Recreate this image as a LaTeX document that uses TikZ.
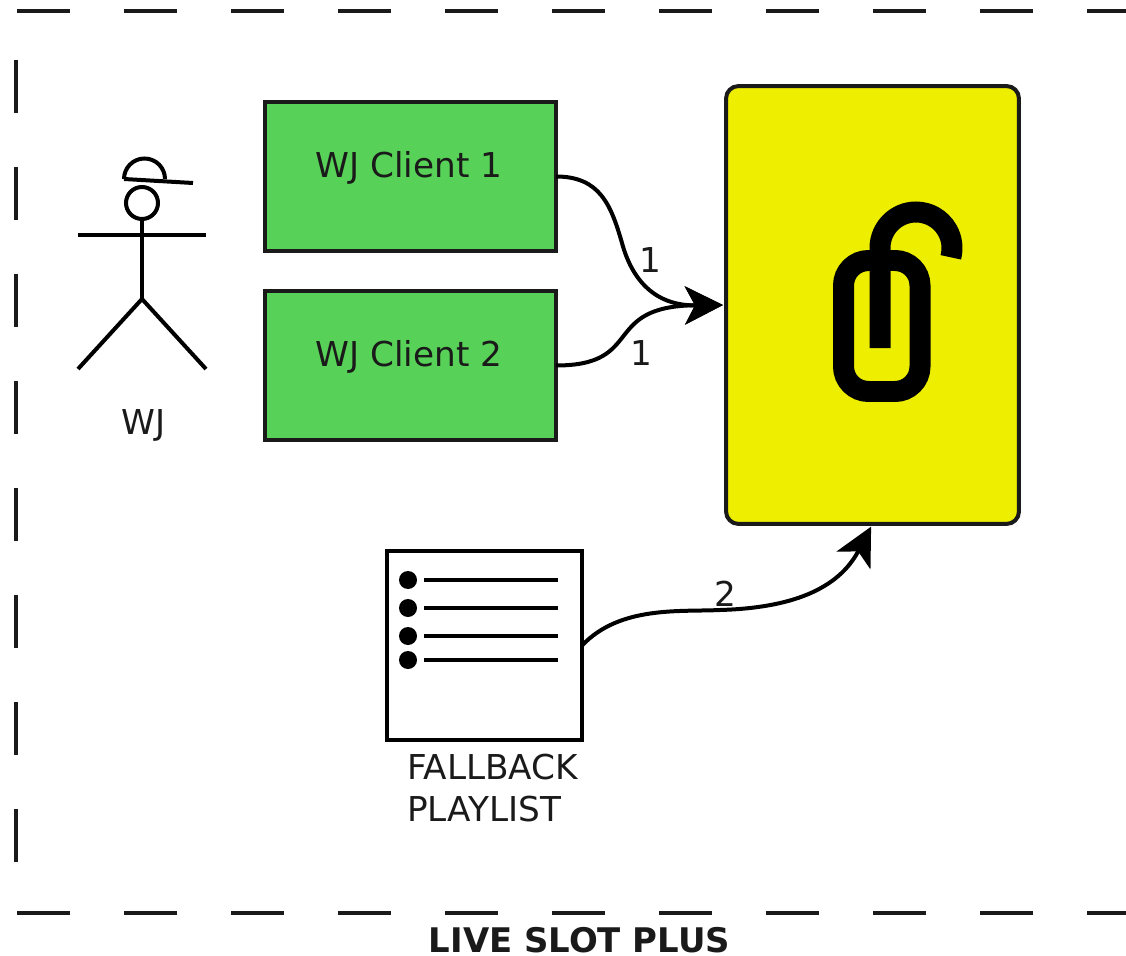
\documentclass[tikz,border=0pt]{standalone}
\usepackage{fontspec}
\setmainfont{DejaVu Sans}
\usepackage{tikz}
\usetikzlibrary{arrows.meta, positioning}
\definecolor{clientgreen}{HTML}{57D157}
\definecolor{mixeryellow}{HTML}{EEEE00}
\definecolor{inkgray}{HTML}{1A1A1A}
\begin{document}
\begin{tikzpicture}[x=0.02cm, y=0.02cm]
\tikzstyle{every node}+=[inner sep=0pt, outer sep=0pt, text=inkgray, font=\fontsize{19.5}{24}\selectfont]
\tikzstyle{frame}=[inkgray, line width=0.09cm, dash pattern=on 1.06cm off 1.08cm]
\tikzstyle{clientbox}=[draw=inkgray, fill=clientgreen, line width=0.08cm, minimum width=5.82cm, minimum height=2.98cm]
\tikzstyle{stick}=[black, line width=0.08cm]
\tikzstyle{wire}=[black, line width=0.08cm]
\tikzstyle{arrowwire}=[wire, shorten >=0.06cm, -{Stealth[length=0.76cm, width=0.76cm, inset=0.2cm]}]
\tikzstyle{lockline}=[black, line width=0.42cm]
\useasboundingbox (0,0) rectangle (1126,-956);
% dashed frame
\coordinate (topleft) at (17,-11);
\coordinate (topright) at (1126,-11);
\coordinate (sidetop) at (16,-60);
\coordinate (sidebottom) at (16,-862);
\coordinate (bottomleft) at (17,-913);
\coordinate (bottomright) at (1126,-913);
\draw [frame] (topleft) -- (topright);
\draw [frame] (sidetop) -- (sidebottom);
\draw [frame] (bottomleft) -- (bottomright);
\node [font=\fontsize{19.3}{24}\selectfont\bfseries] (slotname) at (579.5,-940) {LIVE SLOT PLUS};
% the wj
\draw [stick] (142,-203) circle (16);
\draw [stick] (124,-179) arc (180:0:20.5) ;
\draw [stick] (124,-179) -- (193,-183);
\draw [stick] (78,-235) -- (206,-235);
\draw [stick] (142,-219) -- (142,-299);
\draw [stick] (78,-369) -- (142,-299) -- (206,-369);
\node (wjname) at (143.5,-425) {WJ};
% clients
\node [clientbox] (client1) at (410.5,-176.5) {};
\node [clientbox] (client2) at (410.5,-365.5) {};
\node (client1name) at (409,-168) {WJ Client 1};
\node (client2name) at (409,-357) {WJ Client 2};
% the target
\node [draw=inkgray, fill=mixeryellow, line width=0.08cm, rounded corners=0.25cm, minimum width=5.86cm, minimum height=8.76cm] (target) at (872.5,-305) {};
\draw [lockline, rounded corners=0.5cm] (843.5,-260.5) rectangle (920,-391.5);
\draw [lockline] (880,-348) -- (880,-248) arc (180:-15:36);
% fallback playlist
\node [draw=black, fill=white, line width=0.08cm, minimum width=3.9cm, minimum height=3.78cm] (playlist) at (484.5,-645.5) {};
\foreach \y in {580,608,636,660} {
\fill [black] (408,-\y) circle (9);
\draw [black, line width=0.08cm] (424,-\y) -- (558,-\y);
}
\node [align=left, anchor=north west] (playlistname) at (407,-754) {FALLBACK\\PLAYLIST};
% connectors
\coordinate (client1bend) at (622,-243);
\draw [arrowwire] (client1.east) .. controls +(44,0) and (611,-205) .. (client1bend) .. controls (632,-280) and (655,-306) .. (target.west);
\draw [arrowwire] (client2.east) .. controls +(90,0) and (600,-306) .. (target.west);
\coordinate (playbend) at (720,-610);
\draw [arrowwire] (playlist.east) .. controls +(38,40) and (680,-612) .. (playbend) .. controls (790,-608) and (838,-590) .. (target.south);
\node (label1a) at (650,-260) {1};
\node (label1b) at (641,-353) {1};
\node (label2) at (725,-594) {2};
\end{tikzpicture}
\end{document}
